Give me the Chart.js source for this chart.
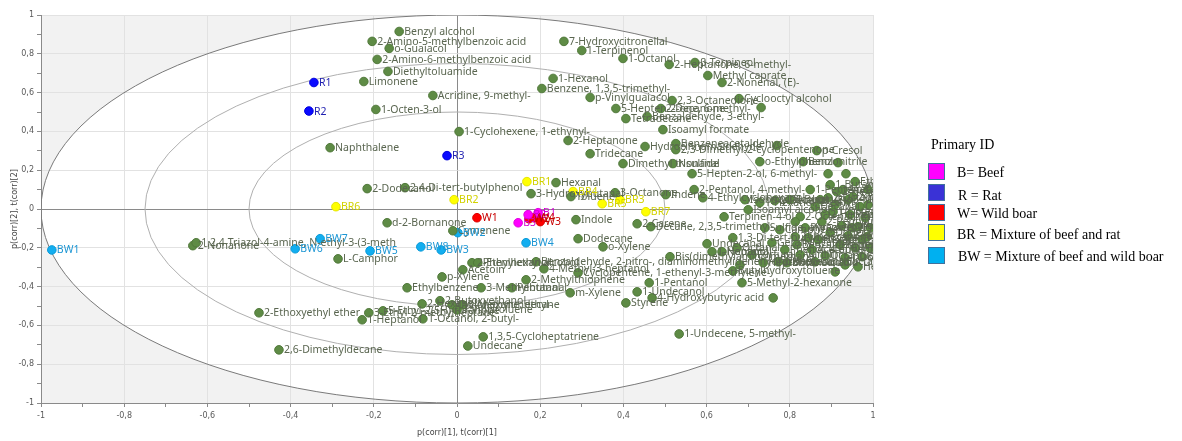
<!DOCTYPE html>
<html><head><meta charset="utf-8">
<script src="https://cdn.jsdelivr.net/npm/chart.js@4.4.0/dist/chart.umd.min.js"></script>
<style>
html,body{margin:0;padding:0;background:#fff;}
#wrap{position:relative;width:1182px;height:441px;overflow:hidden;}
canvas{position:absolute;left:0;top:0;}
.lg{position:absolute;font-family:"Liberation Serif","Times New Roman",serif;font-size:14px;color:#000;white-space:nowrap;line-height:16px;}
.sw{position:absolute;width:17px;height:17px;border:1px solid #41719c;box-sizing:border-box;}
</style></head><body>
<div id="wrap">
<canvas id="c" width="1182" height="441"></canvas>
<div class="lg" style="left:931px;top:137px;">Primary ID</div>
<div class="sw" style="left:928px;top:163px;background:#ff00ff;"></div>
<div class="sw" style="left:928px;top:184px;background:#3a32d6;"></div>
<div class="sw" style="left:928px;top:204px;background:#ff0000;"></div>
<div class="sw" style="left:928px;top:224px;background:#ffff00;"></div>
<div class="sw" style="left:928px;top:247px;background:#00b0f0;"></div>
<div class="lg" style="left:957px;top:165px;">B= Beef</div>
<div class="lg" style="left:958px;top:188px;">R = Rat</div>
<div class="lg" style="left:957px;top:206px;">W= Wild boar</div>
<div class="lg" style="left:957px;top:227px;">BR = Mixture of beef and rat</div>
<div class="lg" style="left:958px;top:249px;">BW = Mixture of beef and wild boar</div>
</div>
<script>
// ---- compounds (loadings), left half ----
const leftNames = ['Benzyl alcohol','2-Amino-5-methylbenzoic acid','o-Guaiacol','2-Amino-6-methylbenzoic acid','Diethyltoluamide','Limonene','Acridine, 9-methyl-','1-Octen-3-ol','Naphthalene','2-Dodecanol',
 '2,4-Di-tert-butylphenol','d-2-Bornanone','2-Nonanone','1,2,4-Triazol-4-amine, N-ethyl-3-(3-meth','L-Camphor','p-Xylene','Ethylbenzene','2-Butoxyethanol','2-Hexanol','2-Ethoxyethyl ether',
 '3-Ethyl-2-methylheptane','5-Ethyl-2(5H)-furanone','1-Heptanol','1-Octanol, 2-butyl-','2,6-Dimethyldecane','Cyclohexane, ethyl-','Cymenene'];
const leftX = [-0.139,-0.204,-0.163,-0.192,-0.166,-0.224,-0.058,-0.195,-0.305,-0.216,
 -0.125,-0.168,-0.635,-0.627,-0.286,-0.036,-0.120,-0.041,-0.084,-0.476,
 -0.212,-0.178,-0.228,-0.082,-0.428,-0.012,-0.010];
const leftY = [0.915,0.864,0.828,0.771,0.709,0.657,0.585,0.513,0.316,0.105,
 0.110,-0.071,-0.189,-0.174,-0.257,-0.350,-0.406,-0.473,-0.489,-0.535,
 -0.535,-0.525,-0.571,-0.566,-0.726,-0.494,-0.112];

// ---- compounds, centre ----
const midNames = ['3-Vinyltoluene','3-Methylundecane','Acetoin','2-Ethylhexanol','Phenylethyl alcohol','3-Methylbutanal','Pentanal','2-Methylthiophene','Benzaldehyde, 2-nitro-, diaminomethylidenehydrazone','4-Methyl-3-heptanol',
 'm-Xylene','Cyclopentene, 1-ethenyl-3-methylene-','1-Pentanol','1-Undecanol','Styrene','4-Hydroxybutyric acid','1-Undecene, 5-methyl-','1,3,5-Cycloheptatriene','Undecane','Dodecane',
 'o-Xylene','Indole','2-Carene','Decane, 2,3,5-trimethyl-','Tridecane','Dimethyl trisulfide','Hexanal','3-Hydroxybutanal','Toluene','3-Octanone',
 'Indene','1-Cyclohexene, 1-ethynyl-','2-Heptanone','7-Hydroxycitronellal','1-Terpinenol','1-Octanol','2-Heptanone, 6-methyl-','1-Hexanol','Benzene, 1,3,5-trimethyl-','p-Vinylguaiacol',
 '2,3-Octanedione','5-Hepten-2-one, 6-methyl-','2-Decanone','Tetradecane','Benzaldehyde, 3-ethyl-','Isoamyl formate','Hydrocinnamaldehyde','Benzeneacetaldehyde','2,3-Dimethyl-2-cyclopentenone','Nonanal',
 'Bis(dimethylamino)methane','5-Hepten-2-ol, 6-methyl-'];
const midX = [0.000,0.014,0.014,0.036,0.050,0.058,0.132,0.166,0.190,0.209,
 0.272,0.291,0.462,0.433,0.406,0.469,0.534,0.063,0.026,0.291,
 0.351,0.286,0.433,0.466,0.320,0.399,0.238,0.178,0.274,0.380,
 0.502,0.005,0.267,0.257,0.300,0.399,0.510,0.231,0.204,0.320,
 0.517,0.382,0.490,0.406,0.457,0.495,0.452,0.526,0.526,0.519,
 0.512,0.565];
const midY = [-0.520,-0.494,-0.313,-0.277,-0.277,-0.406,-0.406,-0.365,-0.272,-0.308,
 -0.432,-0.329,-0.380,-0.427,-0.484,-0.458,-0.644,-0.659,-0.706,-0.153,
 -0.195,-0.055,-0.076,-0.091,0.285,0.234,0.136,0.079,0.064,0.084,
 0.074,0.399,0.353,0.864,0.817,0.776,0.745,0.673,0.621,0.575,
 0.559,0.518,0.518,0.466,0.477,0.409,0.322,0.337,0.306,0.234,
 -0.246,0.182];

// ---- compounds, right side (outer) ----
const rightNames = ['β-Terpineol','Methyl caprate','2-Nonenal, (E)-','Cyclooctyl alcohol','','','p-Cresol','o-Ethylphenol','Benzonitrile','',
 '','','2-Pentanol, 4-methyl-','4-Ethylcyclohexanol','Terpinen-4-ol','Butylhydroxytoluene','5-Methyl-2-hexanone','',''];
const rightX = [0.572,0.603,0.637,0.678,0.731,0.769,0.865,0.728,0.832,0.916,
 0.892,0.935,0.570,0.591,0.642,0.663,0.685,0.760,0.909];
const rightY = [0.755,0.688,0.652,0.569,0.523,0.327,0.301,0.244,0.244,0.239,
 0.182,0.182,0.100,0.058,-0.040,-0.319,-0.380,-0.458,-0.324];

// ---- compounds, dense cluster near p(corr)[1] = 1 ----
const clusterNames = ['Undecanal','1-Nonanol','Heptanal','1,3-Di-tert-butylbenzene','Octanal','Isobutyl alcohol','Isoamyl alcohol','1-Hexanol, 2-ethyl-','Sulfide, allyl methyl','2-Decenal, (E)-',
 '2-Heptenal, (E)-','Heptanoic acid','Butanoic acid','3-Buten-2-ol','2-Undecanone','Benzaldehyde','2-Octenal, (E)-','Pyrazine, 2,5-dimethyl-','1-Penten-3-ol','Acetophenone',
 'Decanal','Hexanoic acid','2-Pentylfuran','Octanoic acid','2-Octanone','Dodecanal','1-Octen-3-one','2-Hexenal, (E)-','Pentanoic acid','Nonanoic acid',
 '1-Dodecanol','3-Methylbutanoic acid','2-Nonanol','Pentadecane','2-Ethylfuran','1-Tetradecanol','Propanoic acid','Heptadecane','Cyclohexanone','Hexadecane',
 'Eucalyptol','1-Decanol','Tetradecanal','2-Butanone','Octadecane','Linalool','Caprolactam','Vanillin','Phenol, 4-ethyl-','Geranylacetone',
 'Furfural','','2-Heptanol','Acetic acid','1-Butanol','Ethyl acetate','Camphene','','',''
 ,'','','',''];
const clusterX = [0.601,0.613,0.637,0.663,0.673,0.692,0.700,0.728,0.740,0.764,
 0.772,0.736,0.793,0.800,0.813,0.817,0.825,0.837,0.849,0.853,
 0.861,0.868,0.877,0.885,0.892,0.897,0.904,0.913,0.921,0.925,
 0.933,0.940,0.940,0.945,0.952,0.957,0.964,0.964,0.969,0.974,
 0.974,0.981,0.986,0.988,0.993,0.993,0.861,0.825,0.788,0.757,
 0.709,0.680,0.885,0.928,0.897,0.957,0.776,0.813,0.844,0.950,
 0.909,0.873,0.988,0.933];
const clusterY = [-0.179,-0.220,-0.220,-0.148,-0.200,0.048,-0.004,0.033,-0.097,0.043,
 -0.272,-0.277,-0.277,0.048,-0.143,-0.184,-0.040,-0.097,0.100,-0.210,
 0.012,-0.158,-0.066,-0.241,0.058,-0.122,-0.014,0.089,-0.184,-0.086,
 -0.251,0.048,-0.138,-0.029,0.064,-0.200,-0.091,-0.298,0.012,-0.158,
 -0.246,-0.045,-0.143,0.022,-0.097,-0.200,-0.272,-0.236,-0.210,-0.174,
 -0.236,-0.288,-0.029,0.100,0.125,0.141,-0.107,-0.066,-0.148,-0.097,
 0.022,0.048,0.100,-0.288];

// ---- samples (scores) ----
const beefNames = ['B1','B2','B3'];
const beefX = [0.195,0.171,0.147];
const beefY = [-0.019,-0.029,-0.071];
const ratNames = ['R1','R2','R3'];
const ratX = [-0.344,-0.356,-0.024];
const ratY = [0.652,0.505,0.275];
const boarNames = ['W1','W2','W4','W3'];
const boarX = [0.048,0.173,0.185,0.200];
const boarY = [-0.045,-0.050,-0.045,-0.065];
const brNames = ['BR1','BR2','BR3','BR4','BR5','BR6','BR7'];
const brX = [0.168,-0.007,0.392,0.279,0.349,-0.291,0.454];
const brY = [0.141,0.048,0.048,0.090,0.027,0.012,-0.014];
const bwNames = ['BW1','BW2','BW3','BW4','BW5','BW6','BW7','BW8'];
const bwX = [-0.974,0.002,-0.038,0.166,-0.209,-0.389,-0.329,-0.087];
const bwY = [-0.211,-0.122,-0.211,-0.174,-0.216,-0.205,-0.153,-0.195];

const ellipseRadii = [1, 0.75, 0.5];

function pts(xs, ys){ return xs.map((v,i)=>({x:v, y:ys[i]})); }

const compNames = leftNames.concat(midNames, rightNames, clusterNames);
const compX = leftX.concat(midX, rightX, clusterX);
const compY = leftY.concat(midY, rightY, clusterY);

function fmt(v){
  const r = Math.round(v*10);
  if (r % 2 !== 0) return '';
  if (r === 0) return '0';
  if (r === 10) return '1';
  if (r === -10) return '-1';
  return (r/10).toFixed(1).replace('.', ',');
}
function gridCol(ctx){
  const r = Math.round(ctx.tick.value*10);
  if (r === 0) return '#8a8a8a';
  return (r % 2 === 0) ? '#e2e2e2' : 'rgba(0,0,0,0)';
}

const bgPlugin = {
  id: 'bgEllipse',
  beforeDraw(chart){
    const {ctx, chartArea:a, scales:{x, y}} = chart;
    ctx.save();
    ctx.fillStyle = '#f2f2f2';
    ctx.fillRect(a.left, a.top, a.right-a.left, a.bottom-a.top);
    const cx = x.getPixelForValue(0), cy = y.getPixelForValue(0);
    const rx = x.getPixelForValue(1)-cx, ry = cy-y.getPixelForValue(1);
    ctx.fillStyle = '#ffffff';
    ctx.beginPath(); ctx.ellipse(cx, cy, rx, ry, 0, 0, Math.PI*2); ctx.fill();
    ctx.restore();
  },
  beforeDatasetsDraw(chart){
    const {ctx, chartArea:a, scales:{x, y}} = chart;
    ctx.save();
    ctx.beginPath(); ctx.rect(a.left, a.top, a.right-a.left, a.bottom-a.top); ctx.clip();
    const cx = x.getPixelForValue(0), cy = y.getPixelForValue(0);
    ellipseRadii.forEach((r, i) => {
      const rx = x.getPixelForValue(r)-cx, ry = cy-y.getPixelForValue(r);
      ctx.strokeStyle = i === 0 ? '#7a7a7a' : '#b0b0b0';
      ctx.lineWidth = 1;
      ctx.beginPath(); ctx.ellipse(cx, cy, rx, ry, 0, 0, Math.PI*2); ctx.stroke();
    });
    ctx.restore();
  }
};

const labelPlugin = {
  id: 'pointLabels',
  afterDatasetsDraw(chart){
    const {ctx, chartArea:a} = chart;
    ctx.save();
    ctx.beginPath(); ctx.rect(a.left, a.top, a.right-a.left, a.bottom-a.top); ctx.clip();
    ctx.font = '10.5px "Noto Sans", "Open Sans", sans-serif';
    ctx.textBaseline = 'middle';
    ctx.textAlign = 'left';
    chart.data.datasets.forEach((ds, i) => {
      const meta = chart.getDatasetMeta(i);
      ctx.fillStyle = ds.labelColor;
      meta.data.forEach((el, j) => {
        const t = ds.pointNames[j];
        if (t) ctx.fillText(t, el.x + 5, el.y + 0.5);
      });
    });
    ctx.restore();
  }
};

function ds(names, xs, ys, fill, border, labelColor){
  return { data: pts(xs, ys), pointNames: names, labelColor: labelColor,
    backgroundColor: fill, borderColor: border, borderWidth: 1,
    pointRadius: 4.3, pointHoverRadius: 4.3 };
}

new Chart(document.getElementById('c'), {
  type: 'scatter',
  data: { datasets: [
    ds(compNames, compX, compY, '#5e8b45', '#51793b', '#5a6650'),
    ds(ratNames, ratX, ratY, '#0a0aff', '#0000dd', '#1f1fb0'),
    ds(brNames, brX, brY, '#ffff00', '#e6e600', '#d2d200'),
    ds(bwNames, bwX, bwY, '#12aef0', '#0a9ad8', '#1c96d4'),
    ds(beefNames, beefX, beefY, '#ff00ff', '#e000e0', '#d000d0'),
    ds(boarNames, boarX, boarY, '#ff0000', '#dd0000', '#c80000')
  ]},
  options: {
    responsive: false, animation: false,
    layout: { padding: { top: 15, right: 309, left: 0, bottom: 0 } },
    plugins: { legend: { display: false }, tooltip: { enabled: false } },
    scales: {
      x: {
        type: 'linear', min: -1, max: 1,
        afterFit(s){ s.height = 38; },
        ticks: { stepSize: 0.1, autoSkip: false, maxRotation: 0, callback: fmt,
          font: { size: 8, family: 'DejaVu Sans' }, color: '#5a5a5a', padding: 4 },
        grid: { color: gridCol, tickColor: '#8a8a8a', tickLength: 4 },
        border: { color: '#8a8a8a' },
        title: { display: true, text: 'p(corr)[1], t(corr)[1]', color: '#444',
          font: { size: 8, family: 'DejaVu Sans' }, padding: { top: 0, bottom: 3 } }
      },
      y: {
        type: 'linear', min: -1, max: 1,
        afterFit(s){ s.width = 41; },
        ticks: { stepSize: 0.1, autoSkip: false, callback: fmt,
          font: { size: 8, family: 'DejaVu Sans' }, color: '#5a5a5a', padding: 3 },
        grid: { color: gridCol, tickColor: '#8a8a8a', tickLength: 4 },
        border: { color: '#8a8a8a' },
        title: { display: true, text: 'p(corr)[2], t(corr)[2]', color: '#444',
          font: { size: 8, family: 'DejaVu Sans' }, padding: { top: 10, bottom: 0 } }
      }
    }
  },
  plugins: [bgPlugin, labelPlugin]
});
</script>
</body></html>
